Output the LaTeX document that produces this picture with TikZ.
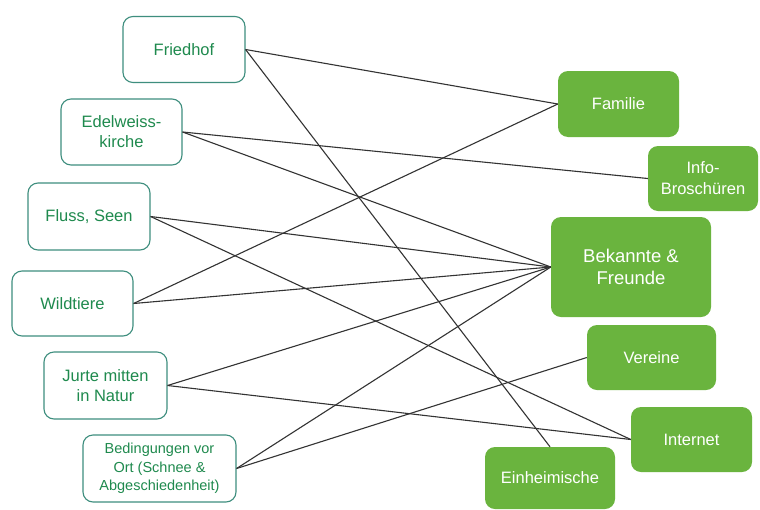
\documentclass[tikz,border=0pt]{standalone}
\usepackage{fontspec}
\setmainfont{Liberation Sans}
\definecolor{placeborder}{HTML}{3E8E7E}
\definecolor{placetext}{HTML}{1F8A4E}
\definecolor{sourcefill}{HTML}{6AB43E}
\definecolor{linkline}{HTML}{333333}
\begin{document}
\begin{tikzpicture}[x=1pt,y=-1pt,
  place/.style={draw=placeborder, line width=1.1pt, fill=white, rounded corners=10pt,
    text=placetext, align=center, inner sep=0pt,
    font=\fontsize{16.5}{20}\selectfont},
  source/.style={fill=sourcefill, rounded corners=10pt, text=white, align=center,
    inner sep=0pt, font=\fontsize{16.5}{21}\selectfont},
  link/.style={draw=linkline, line width=1.1pt}]
\useasboundingbox[fill=white] (0,0) rectangle (760,509);

% places on the left
\node[place, minimum width=122pt, minimum height=66pt] (fried) at (184,49.5) {Friedhof};
\node[place, minimum width=121pt, minimum height=66pt] (edel) at (121.5,132) {Edelweiss-\\kirche};
\node[place, minimum width=122pt, minimum height=67pt] (fluss) at (89,216.5) {Fluss, Seen};
\node[place, minimum width=121pt, minimum height=65pt] (wild) at (72.5,303.5) {Wildtiere};
\node[place, minimum width=123pt, minimum height=67pt] (jurte) at (105.5,385.5) {Jurte mitten\\in Natur};
\node[place, minimum width=153pt, minimum height=67pt, font=\fontsize{14.5}{18.5}\selectfont] (beding) at (159.5,468.5) {Bedingungen vor\\Ort (Schnee \&\\Abgeschiedenheit)};

% information sources on the right
\node[source, minimum width=121pt, minimum height=66pt] (fam) at (618.5,104) {Familie};
\node[source, minimum width=110pt, minimum height=65pt] (info) at (703,178.5) {Info-\\Broschüren};
\node[source, minimum width=160pt, minimum height=100pt, font=\fontsize{18.5}{22}\selectfont] (bek) at (631,267) {Bekannte \&\\Freunde};
\node[source, minimum width=129pt, minimum height=65pt] (ver) at (651.5,357.5) {Vereine};
\node[source, minimum width=121pt, minimum height=65pt] (inet) at (691.5,439.5) {Internet};
\node[source, minimum width=130pt, minimum height=62pt] (einh) at (550,478) {Einheimische};

% connections
\draw[link] (fried.east) -- (fam.west);
\draw[link] (fried.east) -- (einh.north);
\draw[link] (edel.east) -- (info.west);
\draw[link] (edel.east) -- (bek.west);
\draw[link] (fluss.east) -- (bek.west);
\draw[link] (fluss.east) -- (inet.west);
\draw[link] (wild.east) -- (fam.west);
\draw[link] (wild.east) -- (bek.west);
\draw[link] (jurte.east) -- (bek.west);
\draw[link] (jurte.east) -- (inet.west);
\draw[link] (beding.east) -- (bek.west);
\draw[link] (beding.east) -- (ver.west);
\end{tikzpicture}
\end{document}
